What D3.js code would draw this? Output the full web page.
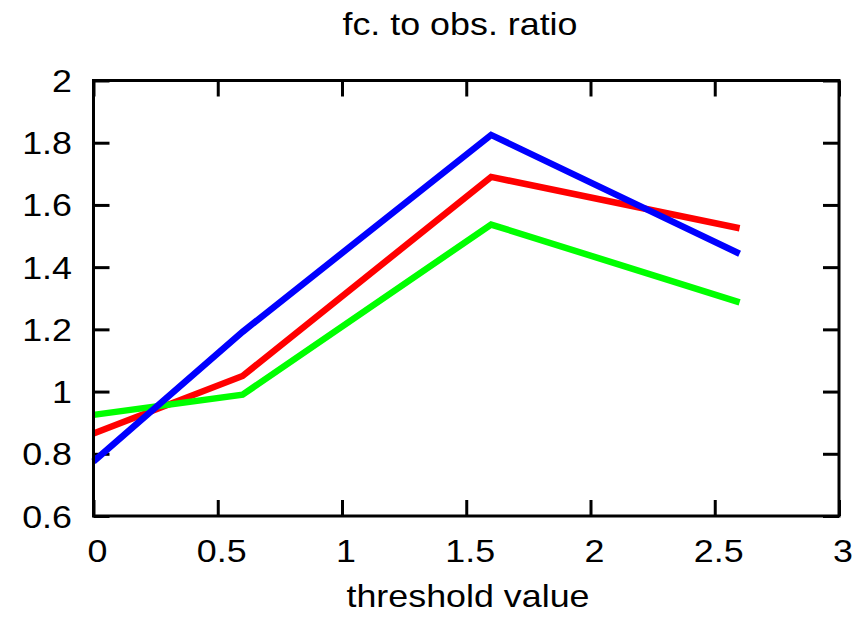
<!DOCTYPE html>
<html>
<head>
<meta charset="utf-8">
<script src="https://cdn.jsdelivr.net/npm/d3@7"></script>
<style>
  body { margin: 0; background: #fff; }
  text { font-family: "Liberation Sans", Arial, Helvetica, sans-serif; fill: #000; }
</style>
</head>
<body>
<svg id="chart" width="866" height="625"></svg>
<script>
// threshold values on the x axis
var thresholds = [0, 0.6, 1.6, 2.6];
// fc. to obs. ratio, one list per line
var redSeries = [0.865, 1.05, 1.69, 1.525];
var greenSeries = [0.925, 0.99, 1.537, 1.287];
var blueSeries = [0.775, 1.192, 1.825, 1.443];

var xTicks = [0, 0.5, 1, 1.5, 2, 2.5, 3];
var yTicks = [0.6, 0.8, 1, 1.2, 1.4, 1.6, 1.8, 2];

var titleText = "fc. to obs. ratio";
var xLabelText = "threshold value";

var margin = {top: 80.5, right: 27, bottom: 109, left: 93.5},
    width = 866 - margin.left - margin.right,
    height = 625 - margin.top - margin.bottom;

var stretch = 1.12; // text in the original is a bit wider than tall

var svg = d3.select('#chart');
var g = svg.append('g').attr('transform', 'translate(' + margin.left + ',' + margin.top + ')');

var x = d3.scaleLinear().domain([0, 3]).range([0, width]);
var y = d3.scaleLinear().domain([0.6, 2]).range([height, 0]);

var tickLen = 16;

// ticks drawn inward on all four sides
var addTicks = function(axis, tx, ty) {
  var a = g.append('g').attr('transform', 'translate(' + tx + ',' + ty + ')').call(axis);
  a.select('.domain').remove();
  a.selectAll('.tick line').attr('stroke', '#000').attr('stroke-width', 3);
  a.selectAll('.tick text').remove();
  return a;
}
addTicks(d3.axisBottom(x).tickValues(xTicks).tickSize(-tickLen), 0, height);
addTicks(d3.axisTop(x).tickValues(xTicks).tickSize(-tickLen), 0, 0);
addTicks(d3.axisLeft(y).tickValues(yTicks).tickSize(-tickLen), 0, 0);
addTicks(d3.axisRight(y).tickValues(yTicks).tickSize(-tickLen), width, 0);

var fmt = function(v) { return d3.format('~g')(v); };

var label = function(str, px, py, anchor) {
  svg.append('text')
      .attr('transform', 'translate(' + px + ',' + py + ') scale(' + stretch + ',1)')
      .attr('text-anchor', anchor)
      .style('font-size', '32px')
      .text(str);
}

xTicks.forEach(function(v) {
  label(fmt(v), margin.left + x(v) + 4, 562, 'middle');
});
yTicks.forEach(function(v) {
  label(fmt(v), 72, margin.top + y(v) + 11.5, 'end');
});

label(titleText, 460, 34.5, 'middle');
label(xLabelText, 468, 607, 'middle');

// lines
var line = d3.line()
    .x(function(d) { return x(d[0]); })
    .y(function(d) { return y(d[1]); });

var series = [
  {values: redSeries, color: '#ff0000'},
  {values: greenSeries, color: '#00ff00'},
  {values: blueSeries, color: '#0000ff'}
];

series.forEach(function(s) {
  g.append('path')
      .datum(d3.zip(thresholds, s.values))
      .attr('fill', 'none')
      .attr('stroke', s.color)
      .attr('stroke-width', 6.5)
      .attr('stroke-linejoin', 'miter')
      .attr('d', line);
});

// frame
g.append('rect')
    .attr('width', width)
    .attr('height', height)
    .attr('fill', 'none')
    .attr('stroke', '#000')
    .attr('stroke-width', 3);
</script>
</body>
</html>
